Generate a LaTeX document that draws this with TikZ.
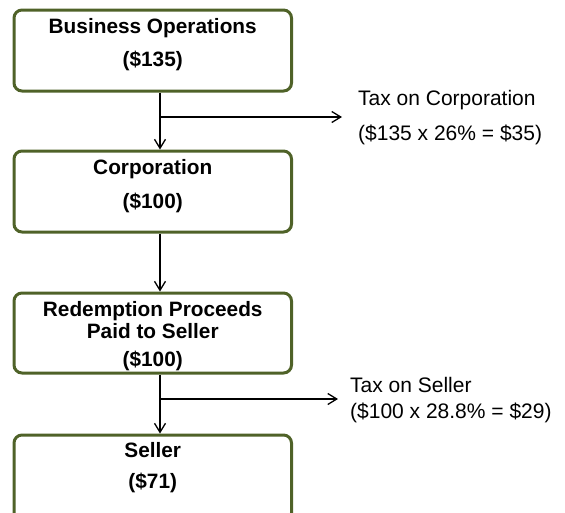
\documentclass[tikz,border=0pt]{standalone}
\usepackage{fontspec}
\setmainfont{Liberation Sans}
\usepackage{tikz}
\usetikzlibrary{arrows.meta,positioning,calc}
\definecolor{oliva}{RGB}{79,98,40}
\newcommand{\textocaja}[2][81pt]{\parbox[c][#1][t]{270pt}{\centering #2}}

\begin{document}
\begin{tikzpicture}[x=1pt,y=-1pt,
caja/.style={draw=oliva,line width=3pt,rounded corners=8pt,fill=white,inner sep=0pt,minimum width=277.5pt,anchor=north,font=\fontsize{20.8}{22}\selectfont\bfseries},
flecha/.style={-{Straight Barb[length=9pt,width=11pt]},line width=1.3pt},
nota/.style={anchor=west,inner sep=0pt,align=left,font=\fontsize{21}{22}\selectfont}
]
\useasboundingbox (0,0) rectangle (565,512);
\clip (0,0) rectangle (565,512);

\node[caja] (negocio) at (152.75,8.5) {\textocaja{\rule{0pt}{23.5pt}Business Operations\\[11pt](\$135)}};
\node[caja] (corporacion) at (152.75,149.5) {\textocaja{\rule{0pt}{23.5pt}Corporation\\[12pt](\$100)}};
\node[caja] (rescate) at (152.75,291.5) {\textocaja[80pt]{\rule{0pt}{23.5pt}Redemption Proceeds\\Paid to Seller\\[6pt](\$100)}};
\node[caja] (vendedor) at (152.75,433.5) {\textocaja[86pt]{\rule{0pt}{22.5pt}Seller\\[9pt](\$71)}};

\node[nota] (impcorp) at (358,117.5) {Tax on Corporation\\[13pt](\$135 x 26\% = \$35)};
\node[nota] (impvend) at (350,400) {Tax on Seller\\[4pt](\$100 x 28.8\% = \$29)};

\coordinate (eje) at (160,0);
\coordinate (rama1) at (160,117);
\coordinate (rama2) at (160,399);

\draw[flecha,shorten >=16pt] (rama1) -- (rama1 -| impcorp.west);
\draw[flecha,shorten >=12pt] (rama2) -- (rama2 -| impvend.west);

\draw[flecha] (negocio.south -| eje) -- (corporacion.north -| eje);
\draw[flecha] (corporacion.south -| eje) -- (rescate.north -| eje);
\draw[flecha] (rescate.south -| eje) -- (vendedor.north -| eje);
\end{tikzpicture}
\end{document}
